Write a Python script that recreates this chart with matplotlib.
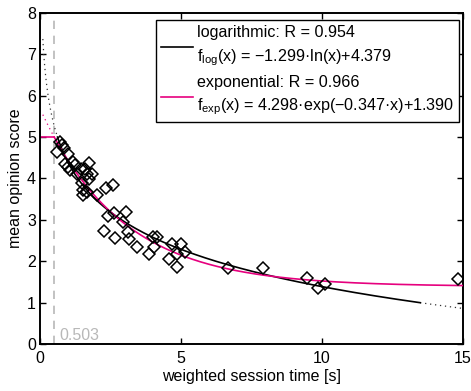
import numpy as np
import matplotlib
matplotlib.use("Agg")
import matplotlib.pyplot as plt

plt.rcParams["font.family"] = ["Liberation Sans", "DejaVu Sans"]
plt.rcParams["mathtext.fontset"] = "custom"
plt.rcParams["mathtext.rm"] = "Liberation Sans"

# measured points (weighted session time, MOS)
session_time = [0.61, 0.71, 0.79, 0.86, 1.00, 0.89, 1.00, 1.06, 1.18, 1.24,
                1.30, 1.44, 1.75, 1.60, 1.66, 1.83, 1.75, 1.48, 1.54, 1.66,
                1.54, 2.01, 2.34, 2.58, 2.42, 2.62, 3.04, 2.27, 2.66, 2.95,
                3.11, 3.17, 3.43, 3.88, 3.99, 4.14, 4.05, 4.57, 4.69, 4.87,
                4.87, 5.00, 5.14, 6.68, 7.90, 9.48, 9.85, 10.11, 14.83]
mos = [4.63, 4.89, 4.81, 4.73, 4.60, 4.36, 4.28, 4.20, 4.40, 4.32,
       4.12, 4.24, 4.38, 4.24, 4.12, 4.12, 3.98, 3.88, 3.72, 3.68,
       3.60, 3.60, 3.78, 3.84, 3.09, 3.16, 3.20, 2.72, 2.57, 2.94,
       2.70, 2.53, 2.35, 2.17, 2.58, 2.58, 2.34, 2.05, 2.42, 1.85,
       2.17, 2.42, 2.23, 1.84, 1.84, 1.59, 1.35, 1.45, 1.57]

# fit parameters
log_a, log_b = -1.299, 4.379
exp_a, exp_b, exp_c = 4.298, -0.347, 1.390
x_cut = 0.503
magenta = "#e6007e"


def f_log(x):
    return log_a * np.log(x) + log_b


def f_exp(x):
    return exp_a * np.exp(exp_b * x) + exp_c


fig = plt.figure(figsize=(4.71, 3.91), dpi=100)
ax = fig.add_axes([0.085, 0.12, 0.898, 0.847])

ax.axvline(x_cut, color="#b8b8b8", linestyle=(0, (5, 4)), linewidth=1.2, zorder=1)
ax.text(x_cut + 0.17, 0.1, "0.503", color="#b8b8b8", fontsize=11.5)

# logarithmic fit: solid where 1 <= f <= 5, dotted outside
x_lo = np.exp((5 - log_b) / log_a)
x_hi = np.exp((1 - log_b) / log_a)
xs = np.linspace(0.1, x_lo, 50)
ax.plot(xs, f_log(xs), color="#333333", linestyle=(0, (1, 3)), linewidth=0.9)
xs = np.linspace(x_hi, 15, 50)
ax.plot(xs, f_log(xs), color="#333333", linestyle=(0, (1, 3)), linewidth=0.9)
xs = np.linspace(x_lo, x_hi, 300)
line_log, = ax.plot(xs, f_log(xs), color="black", linewidth=1.2, zorder=3)

# exponential fit
xs = np.linspace(0.1, x_cut, 50)
ax.plot(xs, f_exp(xs), color=magenta, linestyle=(0, (1, 3)), linewidth=0.9)
ax.plot([0, x_cut], [5, 5], color=magenta, linewidth=1.2)
xs = np.linspace(x_cut, 15, 300)
line_exp, = ax.plot(xs, f_exp(xs), color=magenta, linewidth=1.2, zorder=3)

ax.plot(session_time, mos, linestyle="none", marker="D", markersize=6.5,
        markerfacecolor="none", markeredgecolor="black", markeredgewidth=1.1,
        zorder=4)

ax.set_xlim(0, 15)
ax.set_ylim(0, 8)
ax.set_xticks([0, 5, 10, 15])
ax.set_yticks(range(0, 9))
ax.tick_params(direction="in", top=True, right=True, labelsize=11.5,
               length=4, width=1)
ax.tick_params(axis="x", pad=5)
ax.tick_params(axis="y", pad=3)
for s in ax.spines.values():
    s.set_linewidth(1.4)
ax.set_xlabel("weighted session time [s]", fontsize=11.5, labelpad=2)
ax.set_ylabel("mean opinion score", fontsize=11.5, labelpad=3)

labels = [
    "logarithmic: R = 0.954\nf$_{\\mathrm{log}}$(x) = \u22121.299\u00b7ln(x)+4.379",
    "exponential: R = 0.966\nf$_{\\mathrm{exp}}$(x) = 4.298\u00b7exp(\u22120.347\u00b7x)+1.390",
]
leg = ax.legend([line_log, line_exp], labels, loc="upper right",
                bbox_to_anchor=(1.0, 0.99), fontsize=11.6, handlelength=2.0,
                handletextpad=0.25, borderpad=0.3, labelspacing=0.45,
                borderaxespad=0.25, fancybox=False, framealpha=1)
for t in leg.get_texts():
    t.set_linespacing(1.5)
leg.get_frame().set_edgecolor("black")
leg.get_frame().set_linewidth(1.0)

fig.savefig("out.png", dpi=100)
